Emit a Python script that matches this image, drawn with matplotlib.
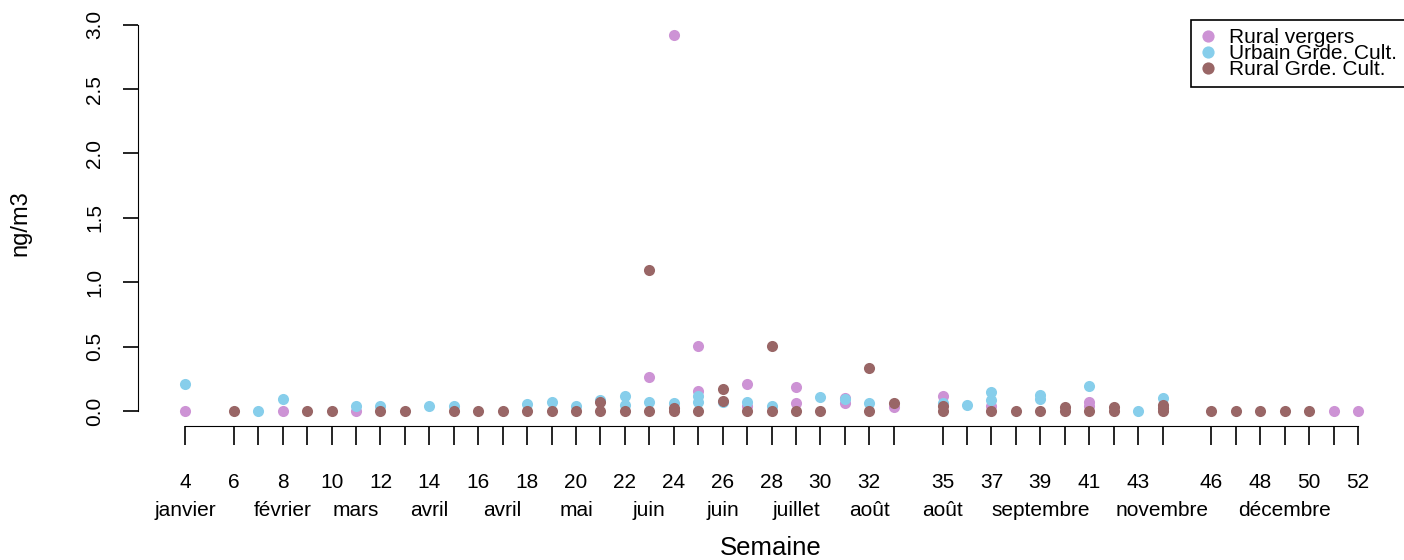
import matplotlib
matplotlib.use("Agg")
import matplotlib.pyplot as plt

plt.rcParams["font.family"] = ["Liberation Sans", "DejaVu Sans"]

# weekly samples, several per week possible
vergers_week = [4, 8, 11, 23, 24, 25, 25, 27, 27, 29, 29, 31, 31, 33, 35, 37, 41, 41, 51, 52]
vergers_val = [0, 0, 0, 0.26, 2.92, 0.505, 0.155, 0.21, 0.04, 0.184, 0.065, 0.10, 0.065,
               0.03, 0.117, 0.035, 0.068, 0.04, 0, 0]

urbain_week = [4, 7, 8, 11, 12, 14, 15, 18, 19, 20, 21, 22, 22, 23, 24, 25, 25, 26, 27, 28,
               30, 31, 32, 35, 36, 37, 37, 39, 39, 41, 43, 44]
urbain_val = [0.21, 0, 0.09, 0.035, 0.035, 0.035, 0.04, 0.055, 0.068, 0.04, 0.085, 0.117,
              0.047, 0.072, 0.065, 0.117, 0.072, 0.07, 0.072, 0.04, 0.111, 0.09, 0.065,
              0.06, 0.047, 0.15, 0.085, 0.124, 0.09, 0.197, 0, 0.104]

rural_week = [6, 9, 10, 12, 13, 15, 16, 17, 18, 19, 20, 21, 21, 22, 23, 23, 24, 24, 25, 26,
              26, 27, 28, 28, 29, 30, 32, 32, 33, 35, 35, 37, 38, 39, 40, 40, 41, 42, 42,
              44, 44, 44, 46, 47, 48, 49, 50]
rural_val = [0, 0, 0, 0, 0, 0, 0, 0, 0, 0, 0, 0.07, 0, 0, 1.095, 0, 0.026, 0, 0, 0.168,
             0.078, 0, 0.505, 0, 0, 0, 0.33, 0, 0.065, 0.035, 0, 0, 0, 0, 0.03, 0, 0,
             0.033, 0, 0.047, 0.02, 0, 0, 0, 0, 0, 0]

tick_weeks = [4] + list(range(6, 34)) + list(range(35, 45)) + list(range(46, 53))
label_weeks = [4, 6, 8, 10, 12, 14, 16, 18, 20, 22, 24, 26, 28, 30, 32,
               35, 37, 39, 41, 43, 46, 48, 50, 52]
month_weeks = [4, 8, 11, 14, 17, 20, 23, 26, 29, 32, 35, 39, 44, 49]
month_names = ["janvier", "février", "mars", "avril", "avril", "mai", "juin", "juin",
               "juillet", "août", "août", "septembre", "novembre", "décembre"]

col_vergers = "#cd93d5"
col_urbain = "#87ceeb"
col_rural = "#996666"

W, H = 1404, 560
fig = plt.figure(figsize=(W / 100, H / 100), dpi=100)
ax = fig.add_axes([138 / W, (H - 426) / H, (1405 - 138) / W, (426 - 20) / H])

ms = 8
ax.plot(vergers_week, vergers_val, "o", color=col_vergers, ms=ms, mec="none", label="Rural vergers")
ax.plot(urbain_week, urbain_val, "o", color=col_urbain, ms=ms, mec="none", label="Urbain Grde. Cult.")
ax.plot(rural_week, rural_val, "o", color=col_rural, ms=ms, mec="none", label="Rural Grde. Cult.")

ax.set_xlim(2.08, 53.92)
ax.set_ylim(-0.1168, 3.0368)

for s in ["top", "right"]:
    ax.spines[s].set_visible(False)
ax.spines["left"].set_bounds(0, 3)
ax.spines["bottom"].set_bounds(4, 52)

ax.set_yticks([0, 0.5, 1.0, 1.5, 2.0, 2.5, 3.0])
ax.set_yticklabels(["0.0", "0.5", "1.0", "1.5", "2.0", "2.5", "3.0"], rotation=90, va="center")
ax.set_xticks(tick_weeks)
ax.set_xticklabels([str(w) if w in label_weeks else "" for w in tick_weeks])
ax.tick_params(axis="x", length=13.7, width=1.2, pad=20, labelsize=15)
ax.tick_params(axis="y", length=10.8, width=1.2, pad=13.7, labelsize=15)

for w, m in zip(month_weeks, month_names):
    ax.text(w, (426 - 516) / 406, m, transform=ax.get_xaxis_transform(),
            ha="center", va="baseline", fontsize=15)

fig.text(771 / W, 1 - 548 / H, "Semaine", ha="center", va="center", fontsize=18.5)
fig.text(20 / W, 1 - 223 / H, "ng/m3", ha="center", va="center", rotation=90, fontsize=17)

leg = ax.legend(loc="upper right", bbox_to_anchor=(1, 1), borderaxespad=0, fontsize=15,
                labelspacing=-0.15, handletextpad=0.6, handlelength=0.8, borderpad=0.4,
                fancybox=False, framealpha=1, edgecolor="black", markerscale=1.1)
leg.get_frame().set_linewidth(1.2)

fig.savefig("out.png", dpi=100)
